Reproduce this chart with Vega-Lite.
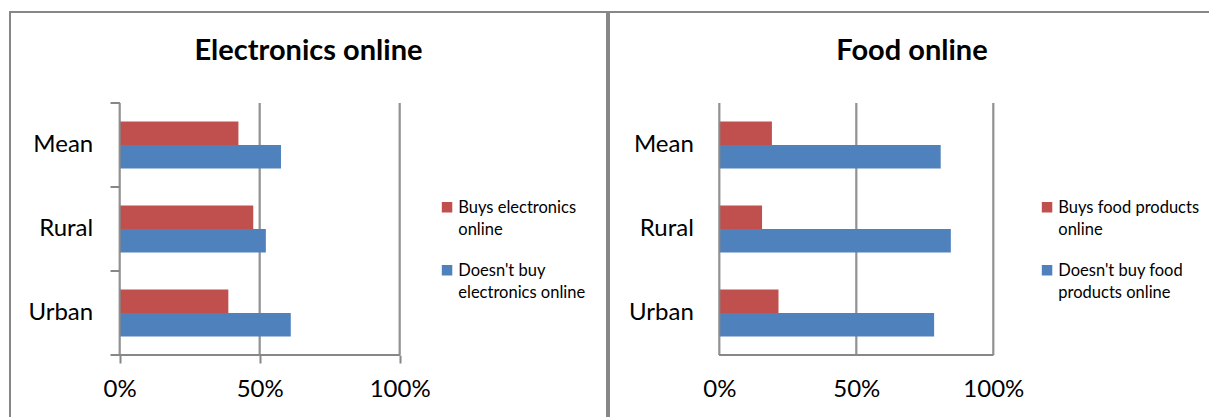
{
  "$schema": "https://vega.github.io/schema/vega-lite/v6.json",
  "padding": {"left": 9, "top": 11, "right": -2, "bottom": -2},
  "background": "white",
  "spacing": 2,
  "bounds": "flush",
  "config": {
    "view": {"stroke": "#878787", "strokeWidth": 2},
    "font": "Lato",
    "axis": {"labelFont": "Lato", "labelColor": "#000000", "labelFontSize": 24, "domain": false, "grid": false, "title": null, "tickColor": "#878787", "tickWidth": 2},
    "title": {"font": "Lato", "fontSize": 29, "fontWeight": "bold", "color": "#000000", "anchor": "middle", "frame": "group"}
  },
  "resolve": {"scale": {"color": "independent", "x": "independent", "y": "independent", "yOffset": "independent"}},
  "hconcat": [
    {
      "width": 597,
      "height": 406,
      "title": {"text": "Electronics online", "offset": -54},
      "data": {"values": [
        {"cat": "Mean", "series": "Buys electronics online", "pct": 42.4},
        {"cat": "Mean", "series": "Doesn't buy electronics online", "pct": 57.6},
        {"cat": "Rural", "series": "Buys electronics online", "pct": 47.7},
        {"cat": "Rural", "series": "Doesn't buy electronics online", "pct": 52.2},
        {"cat": "Urban", "series": "Buys electronics online", "pct": 38.8},
        {"cat": "Urban", "series": "Doesn't buy electronics online", "pct": 61.1}
      ]},
      "encoding": {
        "y": {"field": "cat", "type": "nominal",
          "scale": {"domain": ["Mean", "Rural", "Urban"], "paddingInner": 0, "paddingOuter": 0.91667, "align": 0.5909},
          "axis": {"offset": -109.7, "ticks": false, "tickSize": 0, "labelPadding": 27}}
      },
      "layer": [
        {"mark": {"type": "tick", "size": 84, "thickness": 2, "color": "#878787"}, "encoding": {"x": {"datum": 50, "type": "quantitative"}}},
        {"mark": {"type": "tick", "size": 84, "thickness": 2, "color": "#878787"}, "encoding": {"x": {"datum": 100, "type": "quantitative"}}},
        {"transform": [{"filter": "datum.cat == 'Urban'"}],
         "mark": {"type": "rule", "color": "#878787", "strokeWidth": 2},
         "encoding": {"x": {"datum": -3.21, "type": "quantitative"}, "x2": {"datum": 100}, "y": {"field": "cat", "type": "nominal", "bandPosition": 1}}},
        {"mark": {"type": "rule", "color": "#878787", "strokeWidth": 2},
         "encoding": {"x": {"datum": -3.21, "type": "quantitative"}, "x2": {"datum": 0}, "y": {"field": "cat", "type": "nominal", "bandPosition": 0}}},
        {"mark": {"type": "bar"},
         "encoding": {
           "x": {"field": "pct", "type": "quantitative",
             "scale": {"domain": [-39.18, 174.04], "nice": false, "zero": false},
             "axis": {"offset": -63, "values": [0, 50, 100], "labelExpr": "datum.value + '%'", "tickSize": 8, "labelPadding": 14}},
           "yOffset": {"field": "series", "type": "nominal", "scale": {"domain": ["Buys electronics online", "Doesn't buy electronics online"], "paddingInner": 0, "paddingOuter": 0.787}},
           "color": {"field": "series", "type": "nominal",
             "scale": {"domain": ["Buys electronics online", "Doesn't buy electronics online"], "range": ["#C0504D", "#4F81BD"]},
             "legend": {"orient": "none", "legendX": 428.8, "legendY": 187, "title": null, "padding": 0, "symbolType": "square", "symbolSize": 110, "symbolStrokeWidth": 0, "symbolOpacity": 1, "labelFont": "Lato", "labelFontSize": 16.5, "labelColor": "#000000", "labelOffset": 3, "labelBaseline": "alphabetic", "labelLimit": 0, "rowPadding": 23,
               "labelExpr": "datum.label == 'Buys electronics online' ? ['Buys electronics', 'online'] : [\"Doesn't buy\", 'electronics online']",
               "encode": {"labels": {"update": {"dy": {"value": 5.5}, "lineHeight": {"value": 22.5}}}}}}
         }},
        {"mark": {"type": "tick", "size": 84, "thickness": 2, "color": "#878787"}, "encoding": {"x": {"datum": 0, "type": "quantitative"}}}
      ]
    },
    {
      "width": 601,
      "height": 406,
      "title": {"text": "Food online", "offset": -54, "dx": 2.5},
      "data": {"values": [
        {"cat": "Mean", "series": "Buys food products online", "pct": 19.2},
        {"cat": "Mean", "series": "Doesn't buy food products online", "pct": 80.8},
        {"cat": "Rural", "series": "Buys food products online", "pct": 15.6},
        {"cat": "Rural", "series": "Doesn't buy food products online", "pct": 84.5},
        {"cat": "Urban", "series": "Buys food products online", "pct": 21.6},
        {"cat": "Urban", "series": "Doesn't buy food products online", "pct": 78.4}
      ]},
      "encoding": {
        "y": {"field": "cat", "type": "nominal",
          "scale": {"domain": ["Mean", "Rural", "Urban"], "paddingInner": 0, "paddingOuter": 0.91667, "align": 0.5909},
          "axis": {"offset": -110.3, "ticks": false, "tickSize": 0, "labelPadding": 26}}
      },
      "layer": [
        {"mark": {"type": "tick", "size": 84, "thickness": 2, "color": "#878787"}, "encoding": {"x": {"datum": 50, "type": "quantitative"}}},
        {"mark": {"type": "tick", "size": 84, "thickness": 2, "color": "#878787"}, "encoding": {"x": {"datum": 100, "type": "quantitative"}}},
        {"transform": [{"filter": "datum.cat == 'Urban'"}],
         "mark": {"type": "rule", "color": "#878787", "strokeWidth": 2},
         "encoding": {"x": {"datum": 0, "type": "quantitative"}, "x2": {"datum": 100}, "y": {"field": "cat", "type": "nominal", "bandPosition": 1}}},
        {"mark": {"type": "bar"},
         "encoding": {
           "x": {"field": "pct", "type": "quantitative",
             "scale": {"domain": [-40.26, 179.09], "nice": false, "zero": false},
             "axis": {"offset": -63, "values": [0, 50, 100], "labelExpr": "datum.value + '%'", "ticks": false, "tickSize": 0, "labelPadding": 22}},
           "yOffset": {"field": "series", "type": "nominal", "scale": {"domain": ["Buys food products online", "Doesn't buy food products online"], "paddingInner": 0, "paddingOuter": 0.787}},
           "color": {"field": "series", "type": "nominal",
             "scale": {"domain": ["Buys food products online", "Doesn't buy food products online"], "range": ["#C0504D", "#4F81BD"]},
             "legend": {"orient": "none", "legendX": 429.8, "legendY": 187, "title": null, "padding": 0, "symbolType": "square", "symbolSize": 110, "symbolStrokeWidth": 0, "symbolOpacity": 1, "labelFont": "Lato", "labelFontSize": 16.5, "labelColor": "#000000", "labelOffset": 3, "labelBaseline": "alphabetic", "labelLimit": 0, "rowPadding": 23,
               "labelExpr": "datum.label == 'Buys food products online' ? ['Buys food products', 'online'] : [\"Doesn't buy food\", 'products online']",
               "encode": {"labels": {"update": {"dy": {"value": 5.5}, "lineHeight": {"value": 22.5}}}}}}
         }},
        {"mark": {"type": "tick", "size": 84, "thickness": 2, "color": "#878787"}, "encoding": {"x": {"datum": 0, "type": "quantitative"}}}
      ]
    }
  ]
}
